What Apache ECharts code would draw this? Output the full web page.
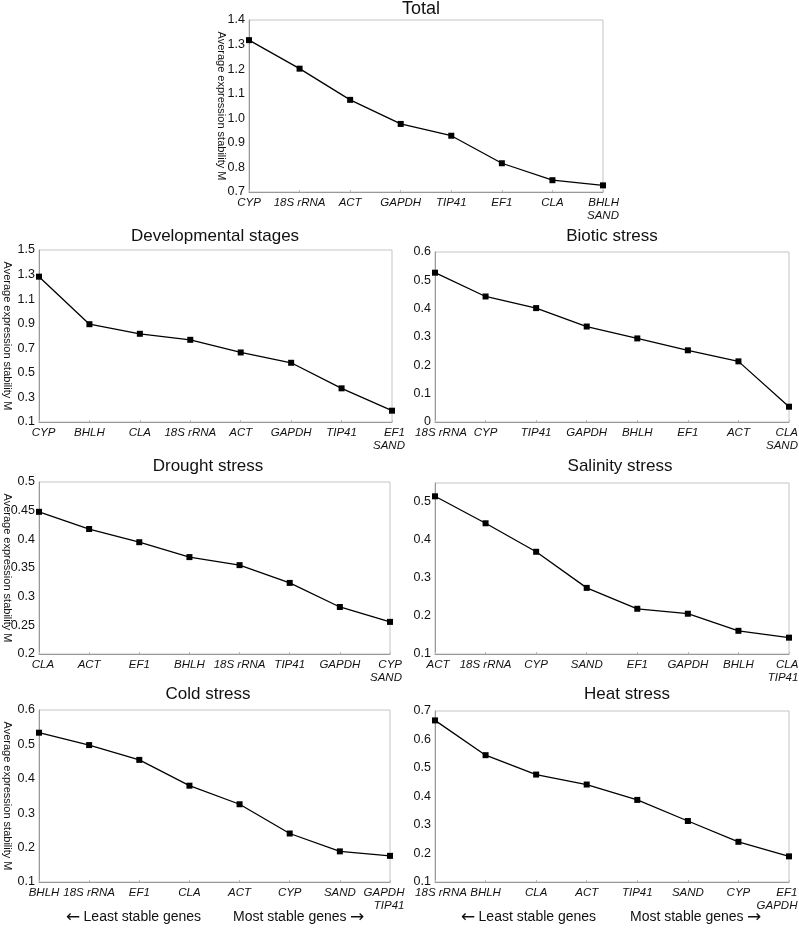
<!DOCTYPE html>
<html><head><meta charset="utf-8">
<script src="https://cdn.jsdelivr.net/npm/echarts@6/dist/echarts.min.js"></script>
<style>html,body{margin:0;padding:0;background:#fff}#c{width:799px;height:928px}</style>
</head><body><div id="c"></div>
<script>
// ---- data ----
const totalGenes = ['CYP','18S rRNA','ACT','GAPDH','TIP41','EF1','CLA','BHLH\nSAND'];
const totalVals  = [1.318,1.202,1.075,0.977,0.929,0.817,0.748,0.727];
const devGenes = ['CYP','BHLH','CLA','18S rRNA','ACT','GAPDH','TIP41','EF1\nSAND'];
const devVals  = [1.283,0.896,0.818,0.769,0.666,0.582,0.374,0.192];
const bioGenes = ['18S rRNA','CYP','TIP41','GAPDH','BHLH','EF1','ACT','CLA\nSAND'];
const bioVals  = [0.527,0.443,0.402,0.337,0.295,0.253,0.214,0.054];
const droGenes = ['CLA','ACT','EF1','BHLH','18S rRNA','TIP41','GAPDH','CYP\nSAND'];
const droVals  = [0.448,0.418,0.395,0.369,0.355,0.324,0.282,0.256];
const salGenes = ['ACT','18S rRNA','CYP','SAND','EF1','GAPDH','BHLH','CLA\nTIP41'];
const salVals  = [0.515,0.444,0.369,0.274,0.219,0.206,0.161,0.143];
const colGenes = ['BHLH','18S rRNA','EF1','CLA','ACT','CYP','SAND','GAPDH\nTIP41'];
const colVals  = [0.534,0.498,0.455,0.380,0.326,0.241,0.189,0.176];
const heaGenes = ['18S rRNA','BHLH','CLA','ACT','TIP41','SAND','CYP','EF1\nGAPDH'];
const heaVals  = [0.667,0.545,0.477,0.442,0.388,0.314,0.241,0.190];
const yAxisName = 'Average expression stability M';
const leastText = 'Least stable genes';
const mostText = 'Most stable genes';

const FONT = 'Arial, "Liberation Sans", sans-serif';
const panels = [
  {title:'Total', tx:421, ty:0, fs:18, genes:totalGenes, vals:totalVals, grid:{left:249,top:20,width:354,height:172}, min:0.7,max:1.4,interval:0.1, fmt:v=>v.toFixed(1), name:true, gap:22, fp:0, lp:0},
  {title:'Developmental stages', tx:215, ty:228, genes:devGenes, vals:devVals, grid:{left:39,top:250,width:353,height:172}, min:0.1,max:1.5,interval:0.2, name:true, gap:26, fp:9, lp:6},
  {title:'Biotic stress', tx:612, ty:228, genes:bioGenes, vals:bioVals, grid:{left:435,top:252,width:354,height:170}, min:0,max:0.6,interval:0.1, fp:12, lp:14},
  {title:'Drought stress', tx:208, ty:458, genes:droGenes, vals:droVals, grid:{left:39,top:482,width:351,height:172}, min:0.2,max:0.5,interval:0.05, name:true, gap:26, fp:8, lp:8},
  {title:'Salinity stress', tx:620, ty:458, genes:salGenes, vals:salVals, grid:{left:435,top:483,width:354,height:171}, min:0.1,max:0.55,interval:0.1, hideMax:true, fp:6, lp:12},
  {title:'Cold stress', tx:208, ty:686, genes:colGenes, vals:colVals, grid:{left:39,top:710,width:351,height:172}, min:0.1,max:0.6,interval:0.1, name:true, gap:26, fp:10, lp:12},
  {title:'Heat stress', tx:627, ty:686, genes:heaGenes, vals:heaVals, grid:{left:435,top:711,width:354,height:171}, min:0.1,max:0.7,interval:0.1, fp:12, lp:24}
];

const option = {animation:false, backgroundColor:'#fff', title:[], grid:[], xAxis:[], yAxis:[], series:[], graphic:[]};
panels.forEach((p,i)=>{
  const last = p.genes.length - 1;
  const base = {align:'right', fontFamily:FONT, fontSize:11.5, fontStyle:'italic', color:'#111', lineHeight:13};
  option.title.push({text:p.title, left:p.tx, top:p.ty, textAlign:'center', padding:0,
    textStyle:{fontFamily:FONT, fontSize:p.fs||17, fontWeight:'normal', color:'#111'}});
  option.grid.push(Object.assign({show:true, borderColor:'#c4c4c4', borderWidth:1, backgroundColor:'transparent',
    containLabel:false, outerBoundsMode:'none'}, p.grid));
  option.xAxis.push({type:'category', gridIndex:i, data:p.genes, boundaryGap:false,
    axisLine:{lineStyle:{color:'#999', width:1}},
    axisTick:{show:true, inside:true, length:2, lineStyle:{color:'#bbb'}},
    splitLine:{show:false},
    axisLabel:{interval:0, margin:4, color:'#111', fontFamily:FONT, fontSize:11.5, fontStyle:'italic', hideOverlap:false,
      formatter:(v,idx)=>{const s = idx===0?'f':(idx===last?'l':'r'); return v.split('\n').map(t=>'{'+s+'|'+t+'}').join('\n');},
      rich:{r:base,
            f:Object.assign({}, base, {padding:[0,0,0,p.fp]}),
            l:Object.assign({}, base, {padding:[0,p.lp,0,0]})}}});
  option.yAxis.push({type:'value', gridIndex:i, min:p.min, max:p.max, interval:p.interval,
    name:p.name?yAxisName:'', nameLocation:'middle', nameRotate:-90, nameGap:p.gap||0, nameMoveOverlap:false,
    nameTextStyle:{fontFamily:FONT, fontSize:11, color:'#111'},
    axisLine:{show:true, lineStyle:{color:'#999', width:1}},
    axisTick:{show:false}, splitLine:{show:false},
    axisLabel:{margin:4, color:'#111', fontFamily:FONT, fontSize:12.5, showMaxLabel:p.hideMax?false:null, hideOverlap:false,
      formatter:p.fmt?p.fmt:(v=>String(+v.toFixed(2)))}});
  option.series.push({type:'line', xAxisIndex:i, yAxisIndex:i, data:p.vals, symbol:'rect', symbolSize:6,
    lineStyle:{color:'#000', width:1.3}, itemStyle:{color:'#000'}});
});
const arrowRich = {a:{fontFamily:'"DejaVu Sans ExtraLight", "DejaVu Sans"', fontSize:17, color:'#111'}, t:{fontFamily:FONT, fontSize:14, color:'#111'}};
[[66,'{a|\u2190} {t|'+leastText+'}'],[233,'{t|'+mostText+'} {a|\u2192}'],[461,'{a|\u2190} {t|'+leastText+'}'],[630,'{t|'+mostText+'} {a|\u2192}']].forEach(([x,t])=>{
  option.graphic.push({type:'text', left:x, top:909, style:{text:t, rich:arrowRich, fill:'#111'}});
});
echarts.init(document.getElementById('c'), null, {renderer:'canvas'}).setOption(option);
</script></body></html>
